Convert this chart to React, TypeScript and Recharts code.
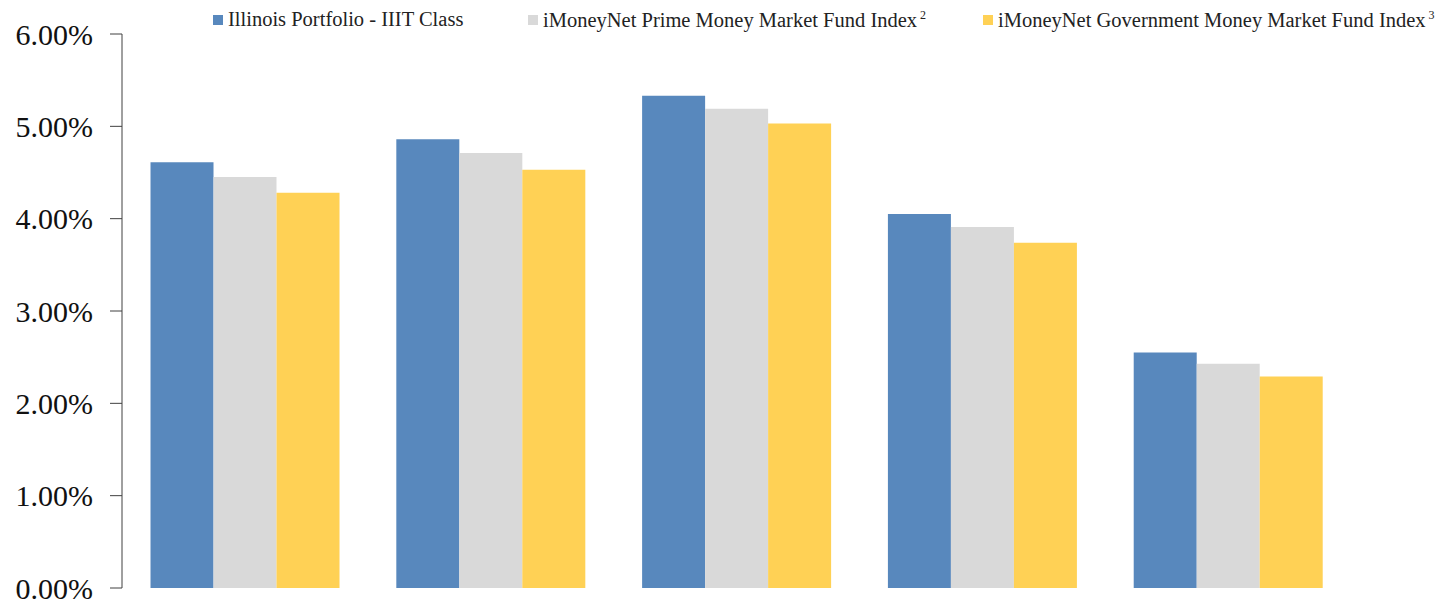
import React from "react";
import { BarChart, Bar, XAxis, YAxis, Legend } from "recharts";

const categories = ["Period 1", "Period 2", "Period 3", "Period 4", "Period 5"];
const illinois = [4.61, 4.86, 5.33, 4.05, 2.55];
const prime = [4.45, 4.71, 5.19, 3.91, 2.43];
const government = [4.28, 4.53, 5.03, 3.74, 2.29];
const yTicks = [0, 1, 2, 3, 4, 5, 6];
const edgeTicks = [0, 1, 2, 3, 4, 5];

const data = categories.map((c, i) => ({
  name: c,
  illinois: illinois[i],
  prime: prime[i],
  government: government[i],
}));

const FONT = '"Liberation Serif", "Times New Roman", serif';
const AXIS = "#404040";

const legendItems = [
  { label: "Illinois Portfolio - IIIT Class", sup: "", color: "#5888BD", left: 205 },
  { label: "iMoneyNet Prime Money Market Fund Index", sup: "2", color: "#D9D9D9", left: 520 },
  { label: "iMoneyNet Government Money Market Fund Index", sup: "3", color: "#FFD155", left: 975 },
];

// legend drawn by hand so each entry sits where the original puts it
function ChartLegend() {
  return (
    <div style={{ position: "relative", height: 26, width: 1427, fontFamily: FONT, fontSize: 20.5, color: "#222" }}>
      {legendItems.map((it) => (
        <div
          key={it.label}
          style={{ position: "absolute", left: it.left, top: 0, display: "flex", alignItems: "center", whiteSpace: "nowrap" }}
        >
          <span style={{ display: "inline-block", width: 10, height: 10, background: it.color, marginRight: 5 }} />
          <span>
            {it.label}
            {it.sup && <sup style={{ fontSize: 12, marginLeft: 3 }}>{it.sup}</sup>}
          </span>
        </div>
      ))}
    </div>
  );
}

export default function App() {
  return (
    <BarChart
      width={1427}
      height={593}
      data={data}
      margin={{ top: 26, right: 84, left: 0, bottom: 0 }}
      barCategoryGap="11.6%"
      barGap={0}
    >
      <XAxis dataKey="name" hide />
      <XAxis
        xAxisId="edge"
        type="number"
        domain={[0, 5]}
        ticks={edgeTicks}
        height={13}
        tickSize={13}
        tick={false}
        stroke={AXIS}
        allowDataOverflow
      />
      <YAxis
        width={114}
        domain={[0, 6]}
        ticks={yTicks}
        interval={0}
        tickSize={12}
        tickMargin={17}
        stroke={AXIS}
        tick={{ fill: "#111", fontSize: 30, fontFamily: FONT }}
        tickFormatter={(v: number) => v.toFixed(2) + "%"}
      />
      <Legend
        layout="horizontal"
        verticalAlign="middle"
        wrapperStyle={{ top: 0, left: 0, width: 1427 }}
        content={() => <ChartLegend />}
      />
      <Bar dataKey="illinois" fill="#5888BD" isAnimationActive={false} />
      <Bar dataKey="prime" fill="#D9D9D9" isAnimationActive={false} />
      <Bar dataKey="government" fill="#FFD155" isAnimationActive={false} />
    </BarChart>
  );
}
